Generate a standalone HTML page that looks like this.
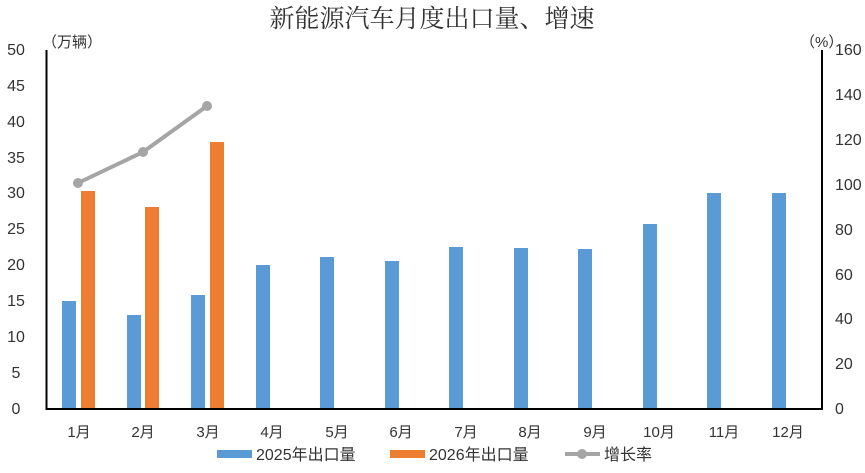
<!DOCTYPE html>
<html><head><meta charset="utf-8"><style>
html,body{margin:0;padding:0;background:#fff;}
svg text{font-family:"Liberation Sans","Noto Sans CJK SC",sans-serif;fill:#333;}
</style></head><body>
<svg width="865" height="468" viewBox="0 0 865 468" xmlns="http://www.w3.org/2000/svg">
<text x="432" y="27" text-anchor="middle" style="font-size:25px;font-family:'Noto Serif CJK SC','Noto Sans CJK SC',serif" fill="#333">新能源汽车月度出口量、增速</text>
<text x="42" y="47" style="font-size:15px">（万辆）</text>
<text x="800" y="47" style="font-size:15px">（%）</text>
<g style="font-size:16px" text-anchor="middle">
<text x="16" y="55">50</text><text x="16" y="91">45</text><text x="16" y="127">40</text><text x="16" y="163">35</text><text x="16" y="198">30</text><text x="16" y="234">25</text><text x="16" y="270">20</text><text x="16" y="306">15</text><text x="16" y="342">10</text><text x="16" y="378">5</text><text x="16" y="414">0</text>
</g>
<g style="font-size:16px" text-anchor="start">
<text x="835" y="55">160</text><text x="835" y="100">140</text><text x="835" y="145">120</text><text x="835" y="190">100</text><text x="835" y="235">80</text><text x="835" y="280">60</text><text x="835" y="324">40</text><text x="835" y="369">20</text><text x="835" y="414">0</text>
</g>
<g fill="#5B9BD5">
<rect x="62" y="301" width="14" height="108"/>
<rect x="127" y="315" width="14" height="94"/>
<rect x="191" y="295" width="14" height="114"/>
<rect x="256" y="265" width="14" height="144"/>
<rect x="320" y="257" width="14" height="152"/>
<rect x="385" y="261" width="14" height="148"/>
<rect x="449" y="247" width="14" height="162"/>
<rect x="514" y="248" width="14" height="161"/>
<rect x="578" y="249" width="14" height="160"/>
<rect x="643" y="224" width="14" height="185"/>
<rect x="707" y="193" width="14" height="216"/>
<rect x="772" y="193" width="14" height="216"/>
</g>
<g fill="#ED7D31">
<rect x="81" y="191" width="14" height="218"/>
<rect x="145" y="207" width="14" height="202"/>
<rect x="210" y="142" width="14" height="267"/>
</g>
<polyline points="78,183 143,152 207,106" fill="none" stroke="#A5A5A5" stroke-width="4"/>
<g fill="#A5A5A5"><circle cx="78" cy="183" r="5"/><circle cx="143" cy="152" r="5"/><circle cx="207" cy="106" r="5"/></g>
<line x1="46.5" y1="50" x2="46.5" y2="410" stroke="#000" stroke-width="2"/>
<line x1="822" y1="50" x2="822" y2="410" stroke="#000" stroke-width="2"/>
<line x1="46" y1="409" x2="823" y2="409" stroke="#000" stroke-width="2"/>
<g style="font-size:15px;font-family:'Noto Serif CJK SC','Liberation Serif',serif" text-anchor="middle">
<text x="79" y="437">1月</text><text x="143" y="437">2月</text><text x="208" y="437">3月</text><text x="272" y="437">4月</text><text x="337" y="437">5月</text><text x="401" y="437">6月</text><text x="466" y="437">7月</text><text x="530" y="437">8月</text><text x="595" y="437">9月</text><text x="659" y="437">10月</text><text x="724" y="437">11月</text><text x="788" y="437">12月</text>
</g>
<rect x="217" y="450" width="35" height="8" fill="#5B9BD5"/>
<text x="256" y="460" style="font-size:16px">2025年出口量</text>
<rect x="390" y="450" width="35" height="8" fill="#ED7D31"/>
<text x="429" y="460" style="font-size:16px">2026年出口量</text>
<line x1="565" y1="454" x2="600" y2="454" stroke="#A5A5A5" stroke-width="4"/>
<circle cx="582" cy="454" r="5" fill="#A5A5A5"/>
<text x="604" y="460" style="font-size:16px">增长率</text>
</svg>
</body></html>
